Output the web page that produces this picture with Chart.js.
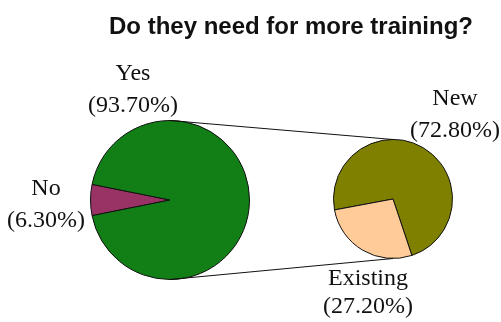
<!DOCTYPE html>
<html>
<head>
<meta charset="utf-8">
<script src="https://cdn.jsdelivr.net/npm/chart.js@4.4.0/dist/chart.umd.min.js"></script>
<style>
  html, body { margin: 0; padding: 0; background: #fff; }
  #wrap { position: relative; width: 501px; height: 322px; }
  #wrap canvas { position: absolute; left: 0; top: 0; }
</style>
</head>
<body>
<div id="wrap">
  <canvas id="mainPie" width="501" height="322"></canvas>
  <canvas id="subPie" width="501" height="322"></canvas>
</div>
<script>
// -------- Data --------
const title = "Do they need for more training?";
const mainLabels = ["No", "Yes"];
const mainValues = [6.30, 93.70];
const subLabels = ["New", "Existing"];
const subValues = [72.80, 27.20];

const mainColors = ["#993366", "#117f15"];
const subColors = ["#808000", "#ffcc99"];

// label anchors, offset from each pie's centre: [dx, baseline1, baseline2]
const mainLabelPos = [[-124, -5, 27], [-37, -120, -88]];
const subLabelPos = [[62, -94, -62], [-25, 86, 114]];

const pct = v => "(" + v.toFixed(2) + "%)";

function pieOptions(rotation, padding) {
  return {
    responsive: false,
    animation: false,
    events: [],
    rotation: rotation,
    layout: { padding: padding },
    plugins: { legend: { display: false }, tooltip: { enabled: false } }
  };
}

function dataset(values, colors) {
  return {
    data: values,
    backgroundColor: colors,
    borderColor: "#111",
    borderWidth: 1
  };
}

// -------- Main pie (left) --------
const mainChart = new Chart(document.getElementById("mainPie"), {
  type: "pie",
  data: { labels: mainLabels, datasets: [dataset(mainValues, mainColors)] },
  options: pieOptions(258.66, { left: 90, right: 251, top: 120, bottom: 42 })
});

// -------- Breakdown pie, connector lines and text --------
const overlay = {
  id: "overlay",
  afterDraw(chart) {
    const ctx = chart.ctx;
    const a = mainChart.getDatasetMeta(0).data[0];
    const b = chart.getDatasetMeta(0).data[0];
    ctx.save();
    ctx.strokeStyle = "#111";
    ctx.lineWidth = 1;
    ctx.beginPath();
    ctx.moveTo(a.x, a.y - a.outerRadius);
    ctx.lineTo(b.x, b.y - b.outerRadius);
    ctx.moveTo(a.x, a.y + a.outerRadius);
    ctx.lineTo(b.x, b.y + b.outerRadius);
    ctx.stroke();

    ctx.fillStyle = "#111";
    ctx.textAlign = "center";
    ctx.textBaseline = "alphabetic";
    ctx.font = "bold 24px 'Liberation Sans', Arial, sans-serif";
    ctx.fillText(title, 291, 34);

    ctx.font = "24px 'Liberation Serif', 'Times New Roman', serif";
    const put = (arc, labels, values, pos) => labels.forEach((l, i) => {
      const [dx, y1, y2] = pos[i];
      ctx.fillText(l, arc.x + dx, arc.y + y1);
      ctx.fillText(pct(values[i]), arc.x + dx, arc.y + y2);
    });
    put(a, mainLabels, mainValues, mainLabelPos);
    put(b, subLabels, subValues, subLabelPos);
    ctx.restore();
  }
};

new Chart(document.getElementById("subPie"), {
  type: "pie",
  data: { labels: subLabels, datasets: [dataset(subValues, subColors)] },
  options: pieOptions(259.4, { left: 333, right: 48, top: 139, bottom: 63 }),
  plugins: [overlay]
});
</script>
</body>
</html>
